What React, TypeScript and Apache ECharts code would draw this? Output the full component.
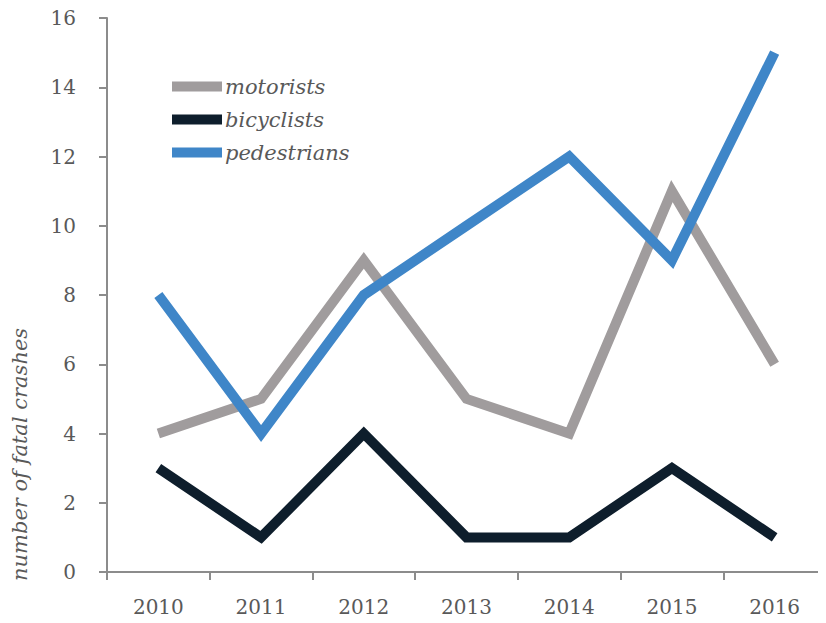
import React, { useEffect, useRef } from "react";
import * as echarts from "echarts";

const years = ["2010", "2011", "2012", "2013", "2014", "2015", "2016"];
const motorists = [4, 5, 9, 5, 4, 11, 6];
const bicyclists = [3, 1, 4, 1, 1, 3, 1];
const pedestrians = [8, 4, 8, 10, 12, 9, 15];

const FONT = "DejaVu Serif";
const AXIS_COLOR = "#8c8c8c";
const LABEL_COLOR = "#595959";

export default function App() {
  const ref = useRef<HTMLDivElement>(null);
  useEffect(() => {
    const chart = echarts.init(ref.current!, null, { renderer: "svg" });
    const mk = (name: string, data: number[], color: string) => ({
      name,
      type: "line",
      data,
      showSymbol: false,
      symbol: "none",
      lineStyle: { color, width: 10, cap: "butt", join: "miter" },
      itemStyle: { color },
    });
    chart.setOption({
      animation: false,
      grid: { left: 107, right: -1, top: 18, bottom: 51, containLabel: false },
      legend: {
        orient: "vertical",
        left: 167,
        top: 71,
        itemWidth: 50,
        itemHeight: 10,
        itemGap: 12,
        icon: "rect",
        textStyle: { fontFamily: FONT, fontStyle: "italic", fontSize: 21, color: "#595959", padding: [0, 0, 0, -2] },
        data: ["motorists", "bicyclists", "pedestrians"],
      },
      xAxis: {
        type: "category",
        data: years,
        boundaryGap: true,
        axisLine: { show: true, lineStyle: { color: AXIS_COLOR, width: 2 } },
        axisTick: { show: true, length: 8, lineStyle: { color: AXIS_COLOR, width: 2 } },
        axisLabel: { color: LABEL_COLOR, fontFamily: FONT, fontSize: 20, margin: 25 },
      },
      yAxis: {
        type: "value",
        min: 0,
        max: 16,
        interval: 2,
        splitLine: { show: false },
        axisLine: { show: true, lineStyle: { color: AXIS_COLOR, width: 2 } },
        axisTick: { show: true, length: 8, lineStyle: { color: AXIS_COLOR, width: 2 } },
        axisLabel: { color: LABEL_COLOR, fontFamily: FONT, fontSize: 20, margin: 31 },
      },
      graphic: [
        {
          type: "text",
          x: 20,
          y: 581,
          rotation: Math.PI / 2,
          style: {
            text: "number of fatal crashes",
            fontFamily: FONT,
            fontStyle: "italic",
            fontSize: 21,
            fill: LABEL_COLOR,
            align: "left",
            verticalAlign: "middle",
          },
        },
      ],
      series: [
        mk("motorists", motorists, "#a09c9d"),
        mk("bicyclists", bicyclists, "#0e1e2c"),
        mk("pedestrians", pedestrians, "#3f86c8"),
      ],
    });
    return () => chart.dispose();
  }, []);
  return <div ref={ref} style={{ width: 826, height: 623, margin: -8 }} />;
}
